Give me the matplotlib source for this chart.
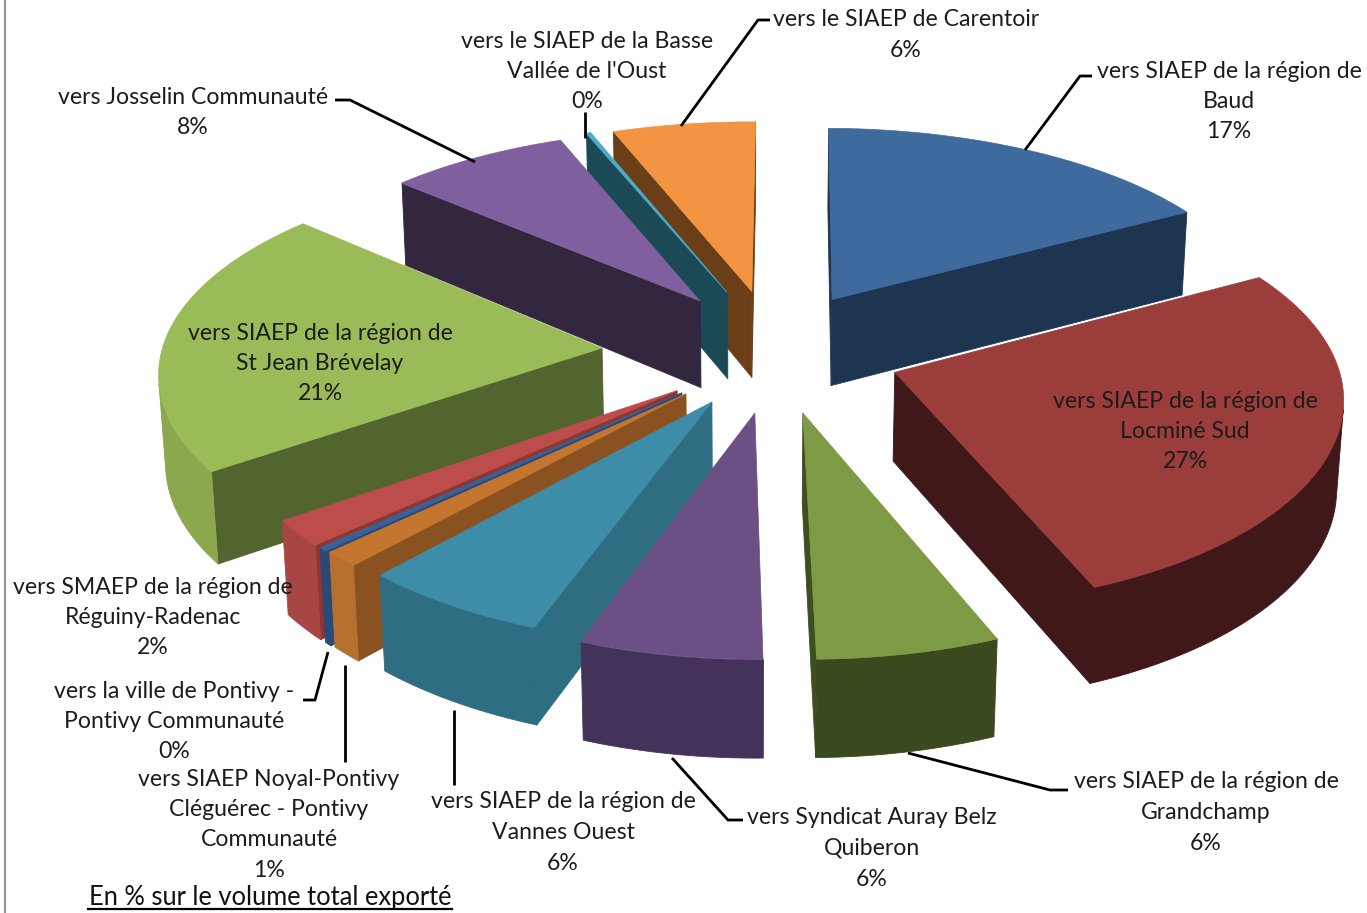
# -*- coding: utf-8 -*-
import numpy as np
import matplotlib
matplotlib.use('Agg')
import matplotlib.pyplot as plt
from matplotlib.collections import PolyCollection

plt.rcParams['font.family'] = ['Lato', 'DejaVu Sans']

# parts du volume exporte (%), sens horaire depuis midi
labels = ['vers SIAEP de la région de\nBaud\n17%',
          'vers SIAEP de la région de\nLocminé Sud\n27%',
          'vers SIAEP de la région de\nGrandchamp\n6%',
          'vers Syndicat Auray Belz\nQuiberon\n6%',
          'vers SIAEP de la région de\nVannes Ouest\n6%',
          'vers SIAEP Noyal-Pontivy\nCléguérec - Pontivy\nCommunauté\n1%',
          'vers la ville de Pontivy -\nPontivy Communauté\n0%',
          'vers SMAEP de la région de\nRéguiny-Radenac\n2%',
          'vers SIAEP de la région de\nSt Jean Brévelay\n21%',
          'vers Josselin Communauté\n8%',
          'vers le SIAEP de la Basse\nVallée de l\'Oust\n0%',
          'vers le SIAEP de Carentoir\n6%']
values = [16.8, 26.9, 5.9, 5.9, 6.1, 1.2, 0.3, 2, 21.3, 7.5, 0.2, 5.9]

# position des etiquettes (centre x, y de la 1ere ligne)
label_x = [1229, 1185, 1206, 872, 563, 269, 174, 153, 320, 193, 587, 906]
label_y = [71, 401, 782, 818, 802, 779, 691, 587, 333, 97, 41, 20]

# decalage de chaque part (explosion), unites du rayon
explode_x = [.196, .330, .121, .015, -.080, -.138, -.147, -.158, -.332, -.112, -.049, .009]
explode_y = [.258, -.109, -.302, -.302, -.250, -.212, -.207, -.197, .01, .250, .295, .30]

top_col = ['#3E6A9E', '#9B3D3B', '#7E9A45', '#6A5085', '#3D8CA8', '#C4752E',
           '#3A6195', '#BC4D4A', '#9BBB59', '#7F5F9E', '#4BACC6', '#F29442']
cut_col = ['#1E3552', '#40181A', '#3F4E20', '#33263F', '#2F6E82', '#8A5220',
           '#2A4A75', '#8F3532', '#52652E', '#33263F', '#1B4A56', '#6A3F18']
rim_col = ['#1E3552', '#40181A', '#3A4A1E', '#43335A', '#2F6E82', '#B5702F',
           '#2A4A75', '#A84644', '#8CA84F', '#33263F', '#1B4A56', '#6A3F18']

# traits de rappel
leaders = [[(770, 20), (758, 20), (681, 126)],
           [(1092, 76), (1080, 76), (1025, 150)],
           [(335, 100), (350, 100), (475, 162)],
           [(585, 112), (585, 138)],
           [(1068, 790), (1050, 790), (908, 753)],
           [(743, 820), (728, 820), (672, 758)],
           [(454, 785), (454, 710)],
           [(345, 762), (345, 665)],
           [(303, 700), (315, 700), (328, 652)]]

# camera
CX, CY = 748, 350
F = 440.0
PHI = np.radians(27.3)
DIST_X = 8.9
DIST_Y = 7.7     # un peu plus fort en y, comme sur le graphique Excel
HEIGHT = 0.228
START = np.radians(0.6)


def project(x, y, z):
    depth = y * np.cos(PHI) - z * np.sin(PHI)
    sx = CX + F * x / (1 + depth / DIST_X)
    sy = CY - F * (y * np.sin(PHI) + z * np.cos(PHI)) / (1 + depth / DIST_Y)
    return sx, sy


def area(p):
    p = np.array(p)
    return 0.5 * np.sum(p[:, 0] * np.roll(p[:, 1], -1) - np.roll(p[:, 0], -1) * p[:, 1])


fig = plt.figure(figsize=(13.67, 9.13), dpi=100)
ax = fig.add_axes([0, 0, 1, 1])
ax.set_xlim(0, 1367)
ax.set_ylim(913, 0)
ax.axis('off')

edges = START + np.cumsum([0] + values) / float(sum(values)) * 2 * np.pi
mid = (edges[:-1] + edges[1:]) / 2
order = np.argsort(-(np.cos(mid) + np.array(explode_y)))

for i in order:
    t = np.linspace(edges[i], edges[i + 1], max(3, int(np.degrees(edges[i + 1] - edges[i])) + 2))
    xs = np.r_[explode_x[i], explode_x[i] + np.sin(t)]
    ys = np.r_[explode_y[i], explode_y[i] + np.cos(t)]
    top = [project(a, b, 0) for a, b in zip(xs, ys)]
    bottom = [project(a, b, -HEIGHT) for a, b in zip(xs, ys)]
    n = len(top)
    quads, colors, rim = [], [], []
    for k in range(n):
        q = (k + 1) % n
        poly = [top[k], top[q], bottom[q], bottom[k]]
        if area(poly) < 0:
            if k == 0 or q == 0:
                quads.append(poly)
                colors.append(cut_col[i])
            else:
                rim.append(k)
    # le bord arrondi d'un seul morceau, sinon on voit des rayures
    if rim:
        k0, k1 = rim[0], rim[-1] + 1
        quads.append(top[k0:k1 + 1] + bottom[k0:k1 + 1][::-1])
        colors.append(rim_col[i])
    ax.add_collection(PolyCollection(quads, facecolors=colors, edgecolors=colors, linewidths=0.6))
    ax.fill([p[0] for p in top], [p[1] for p in top], color=top_col[i], lw=0.5)

for line in leaders:
    ax.plot([p[0] for p in line], [p[1] for p in line], color='black', lw=2, solid_capstyle='butt')

for txt, x, y in zip(labels, label_x, label_y):
    for j, part in enumerate(txt.split('\n')):
        ax.text(x, y + j * 30.5, part, ha='center', va='center', fontsize=16.6, color='#1c1c1c')

ax.text(270, 897, 'En % sur le volume total exporté', ha='center', va='center',
        fontsize=18.4, color='#111111')
ax.plot([88, 452], [909, 909], color='black', lw=1.6)

# bord gauche du cadre
ax.plot([5, 5], [0, 913], color='#9a9a9a', lw=1.6)

fig.savefig('out.png', dpi=100)
